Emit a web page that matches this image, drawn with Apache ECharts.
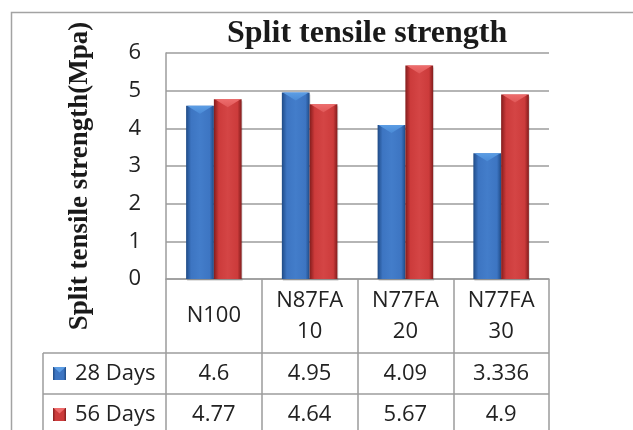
<!DOCTYPE html>
<html>
<head>
<meta charset="utf-8">
<script src="https://cdn.jsdelivr.net/npm/echarts@6/dist/echarts.min.js"></script>
<style>
html,body{margin:0;padding:0;background:#fff;}
#main{width:633px;height:430px;}
</style>
</head>
<body>
<div id="main"></div>
<script>
// ---- data ----
const categories = ["N100", "N87FA 10", "N77FA 20", "N77FA 30"];
const seriesNames = ["28 Days", "56 Days"];
const days28 = [4.6, 4.95, 4.09, 3.336];
const days56 = [4.77, 4.64, 5.67, 4.9];
const yTicks = [0, 1, 2, 3, 4, 5, 6];
const titleText = "Split tensile strength";
const yAxisTitle = "Split tensile strength(Mpa)";

// ---- styling ----
const palettes = [
  {edgeL:'#2b5c9f', main:'#3d75c2', mid:'#437dca', edgeR:'#1f4a84', top:'#5c9de4', topEdge:'#4a8ad6'},
  {edgeL:'#a02828', main:'#cc3b3b', mid:'#d44545', edgeR:'#821d1d', top:'#ee6d6d', topEdge:'#e05858'}
];
const gridCol = '#9c9c9c';
const textCol = '#222222';
const labelFont = 'Open Sans';
const labelSize = 22;

function barGradient(p){
  return new echarts.graphic.LinearGradient(0,0,1,0,[
    {offset:0, color:p.edgeR},
    {offset:0.07, color:p.edgeL},
    {offset:0.18, color:p.main},
    {offset:0.5, color:p.mid},
    {offset:0.85, color:p.main},
    {offset:0.94, color:p.edgeL},
    {offset:1, color:p.edgeR}
  ]);
}

function makeRender(k){
  const p = palettes[k];
  return function(params, api){
    const i = api.value(0), v = api.value(1);
    const p0 = api.coord([i, 0]);
    const p1 = api.coord([i, v]);
    const band = api.size([1, 0])[0];
    const w = band * 0.29;
    const x = p0[0] + (k === 0 ? -w : 0);
    const y = p1[1];
    const h = p0[1] - p1[1];
    const bev = Math.min(8, h);
    return {
      type:'group',
      children:[
        {type:'rect', shape:{x:x+1, y:y+2, width:w, height:h}, style:{fill:'rgba(0,0,0,0.12)'}},
        {type:'rect', shape:{x:x, y:y, width:w, height:h}, style:{fill:barGradient(p)}},
        {type:'polygon', shape:{points:[[x+1,y],[x+w-1,y],[x+w/2,y+bev]]},
          style:{fill:new echarts.graphic.LinearGradient(0,0,0,1,[{offset:0,color:p.top},{offset:1,color:p.topEdge}])}}
      ]
    };
  };
}

const chart = echarts.init(document.getElementById('main'), null, {renderer:'canvas'});

const fmt = v => String(v);

const legendGraphics = [];
seriesNames.forEach((name, k) => {
  const cy = k === 0 ? 373.5 : 414.5;
  const p = palettes[k];
  legendGraphics.push({
    type:'rect', shape:{x:53, y:cy-6.5, width:13, height:13},
    style:{fill:new echarts.graphic.LinearGradient(0,0,1,0,[{offset:0,color:p.edgeR},{offset:0.2,color:p.main},{offset:0.8,color:p.main},{offset:1,color:p.edgeR}])}
  });
  legendGraphics.push({
    type:'polygon', shape:{points:[[53.5,cy-6.5],[65.5,cy-6.5],[59.5,cy-1]]},
    style:{fill:p.top}
  });
  legendGraphics.push({
    type:'text', x:75, y:cy,
    style:{text:name, font:labelSize + 'px "' + labelFont + '"', fill:textCol, textAlign:'left', textVerticalAlign:'middle'}
  });
});

const option = {
  backgroundColor:'#ffffff',
  animation:false,
  title:{
    text:titleText, left:222, top:13,
    textStyle:{fontFamily:'Liberation Serif', fontWeight:'bold', fontSize:32, color:'#1a1a1a'}
  },
  grid:{left:166, right:84, top:53, bottom:151, containLabel:false},
  xAxis:[
    {
      type:'category', data:categories, position:'bottom',
      axisLine:{show:true, lineStyle:{color:gridCol, width:1.5}},
      axisTick:{show:true, length:156, interval:0, lineStyle:{color:gridCol, width:1.5}},
      axisLabel:{interval:0, margin:37, verticalAlign:'middle', lineHeight:31,
        fontFamily:labelFont, fontSize:labelSize, color:textCol,
        formatter:s => s.replace(' ', '\n')}
    },
    {
      type:'category', data:days28.map(fmt), position:'bottom',
      axisLine:{show:false}, axisTick:{show:false},
      axisLabel:{interval:0, margin:94.5, verticalAlign:'middle', fontFamily:labelFont, fontSize:labelSize, color:textCol}
    },
    {
      type:'category', data:days56.map(fmt), position:'bottom',
      axisLine:{show:false}, axisTick:{show:false},
      axisLabel:{interval:0, margin:135.5, verticalAlign:'middle', fontFamily:labelFont, fontSize:labelSize, color:textCol}
    }
  ],
  yAxis:{
    type:'value', min:yTicks[0], max:yTicks[yTicks.length-1], interval:1,
    axisLine:{show:true, lineStyle:{color:gridCol, width:1.5}},
    axisTick:{show:false},
    splitLine:{show:true, lineStyle:{color:gridCol, width:1.5}},
    axisLabel:{margin:25, fontFamily:labelFont, fontSize:labelSize, color:textCol}
  },
  series:[
    {type:'custom', name:seriesNames[0], xAxisIndex:0, renderItem:makeRender(0),
      data:days28.map((v,i)=>[i,v]), encode:{x:0, y:1}, z:3},
    {type:'custom', name:seriesNames[1], xAxisIndex:0, renderItem:makeRender(1),
      data:days56.map((v,i)=>[i,v]), encode:{x:0, y:1}, z:3}
  ],
  graphic:[
    {type:'rect', shape:{x:11.5, y:12.5, width:800, height:600}, style:{fill:null, stroke:'#a3a3a3', lineWidth:1.5}, silent:true},
    {type:'line', shape:{x1:43, y1:353, x2:549, y2:353}, style:{stroke:gridCol, lineWidth:1.5}},
    {type:'line', shape:{x1:43, y1:394, x2:549, y2:394}, style:{stroke:gridCol, lineWidth:1.5}},
    {type:'line', shape:{x1:43, y1:353, x2:43, y2:440}, style:{stroke:gridCol, lineWidth:1.5}},
    {type:'text', x:80, y:176, rotation:Math.PI/2,
      style:{text:yAxisTitle, font:'bold 27px "Liberation Serif"', fill:'#1a1a1a', textAlign:'center', textVerticalAlign:'middle'}}
  ].concat(legendGraphics)
};

chart.setOption(option);
</script>
</body>
</html>
